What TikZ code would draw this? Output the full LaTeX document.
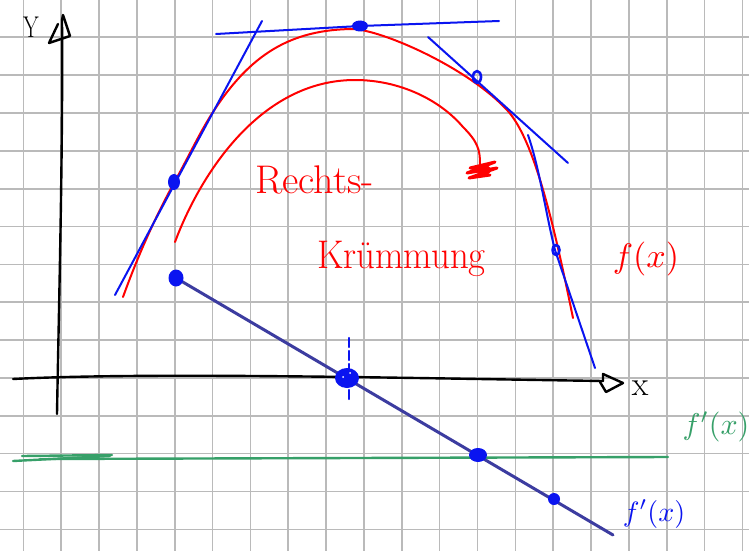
\documentclass[tikz,border=0pt]{standalone}
\usepackage{fontspec}
\definecolor{gridc}{RGB}{186,186,186}
\definecolor{penred}{RGB}{255,0,0}
\definecolor{penblue}{RGB}{10,20,240}
\definecolor{deriv}{RGB}{60,60,160}
\definecolor{pengreen}{RGB}{55,160,105}
\tikzset{
  gridline/.style={draw=gridc,line width=1.6pt},
  axis/.style={draw=black,line width=2.4pt},
  redcurve/.style={draw=penred,line width=2pt},
  tangent/.style={draw=penblue,line width=2pt},
  derivline/.style={draw=deriv,line width=3pt},
  greenline/.style={draw=pengreen,line width=2.4pt},
  bigdot/.style={fill=penblue},
  ringdot/.style={draw=penblue,line width=2.6pt},
  hand/.style={inner sep=0pt,font=\fontsize{40}{40}\selectfont},
  mathlab/.style={inner sep=0pt},
}
\begin{document}
\begin{tikzpicture}[x=1pt,y=-1pt,line cap=round,line join=round]
\useasboundingbox (0,0) rectangle (749,551);
\fill[white] (0,0) rectangle (749,551);
% grid
\foreach \i in {0,...,19} \draw[gridline] ({23.3+37.85*\i},0) -- ({23.3+37.85*\i},551);
\foreach \j in {0,...,14} \draw[gridline] (0,{-0.55+37.85*\j}) -- (749,{-0.55+37.85*\j});

% axes
\coordinate (xs) at (13,379);
\coordinate (xe) at (603,381);
\coordinate (ys) at (57,414);
\coordinate (ye) at (62,20);
\draw[axis] (xs) .. controls (150,372) and (400,378) .. (xe);
\draw[axis] (xe) -- (603,374) -- (623,383) -- (606,392) -- (600,382);
\draw[axis] (ys) .. controls (59,300) and (63,150) .. (ye);
\draw[axis] (ye) -- (63,15) -- (70,36) -- (49,43) -- (58,24);
\node[inner sep=0pt,font=\fontsize{30}{30}\selectfont,xscale=0.75] (ylab) at (31,27) {Y};
\node[inner sep=0pt,font=\fontsize{34}{34}\selectfont] (xlab) at (640,388) {x};

% green line
\coordinate (g0) at (13,461);
\coordinate (g1) at (110,456);
\coordinate (g2) at (22,456);
\coordinate (g3) at (668,457);
\draw[greenline] (g0) -- (g1);
\draw[greenline] (g2) -- (112,455);
\draw[greenline] (40,459) -- (g3);
\node[mathlab,text=pengreen,scale=3] (glab) at (716,427) {$f'(x)$};

% red curves
\draw[redcurve] (123,297) .. controls (140,250) and (158,212) .. (174,183)
  .. controls (190,154) and (200,132) .. (213,112)
  .. controls (250,55) and (290,29) .. (355,29)
  .. controls (390,33) and (470,70) .. (507,110)
  .. controls (535,140) and (555,230) .. (573,318);
\draw[redcurve] (175,242) .. controls (200,175) and (260,80) .. (355,80)
  .. controls (400,80) and (440,100) .. (463,127)
  .. controls (478,142) and (480,150) .. (480,164);
\draw[penred,line width=3pt] (470,168) -- (495,162) -- (467,173) -- (497,168) -- (469,178) -- (490,175);
\fill[penred] (484,170) ellipse (7 and 5);

% red labels
\node[hand,text=penred,anchor=base west] (rechts) at (255,193) {Rechts-};
\node[hand,text=penred,anchor=base west,xscale=0.92] (kruemmung) at (317,268) {Krümmung};
\node[mathlab,text=penred,scale=3.4] (flab) at (646,259) {$f(x)$};

% tangents
\coordinate (t1a) at (115,295); \coordinate (t1b) at (262,21);
\coordinate (t2a) at (216,34);  \coordinate (t2b) at (499,21);
\coordinate (t3a) at (428,37);  \coordinate (t3b) at (568,163);
\coordinate (t4a) at (528,135); \coordinate (t4b) at (595,368);
\draw[tangent] (t1a) -- (t1b);
\draw[tangent] (t2a) -- (360,26) -- (t2b);
\draw[tangent] (t3a) -- (t3b);
\draw[tangent] (t4a) .. controls (540,170) and (546,215) .. (555,250) -- (t4b);
\fill[bigdot] (174,182) ellipse (6 and 8);
\fill[bigdot] (360,26) ellipse (8 and 5.5);
\draw[ringdot] (477,77) ellipse (4 and 6);
\draw[ringdot] (556,250) ellipse (3.5 and 5);

% derivative line
\coordinate (d0) at (176,278);
\coordinate (d1) at (613,535);
\draw[derivline] (d0) -- (d1);
\draw[penblue,line width=2.2pt,dash pattern=on 9pt off 4pt] (349,338) -- (349,402);
\fill[bigdot] (176,278) ellipse (7.5 and 8.5);
\fill[bigdot] (347,378) ellipse (12 and 10);
\fill[white] (343,377) circle (1); \fill[white] (350,373) circle (1);
\fill[bigdot] (478,455) ellipse (9 and 7);
\fill[bigdot] (554,499) ellipse (6 and 6);
\node[mathlab,text=penblue,scale=2.8] (blab) at (654,514) {$f'(x)$};
\end{tikzpicture}
\end{document}
